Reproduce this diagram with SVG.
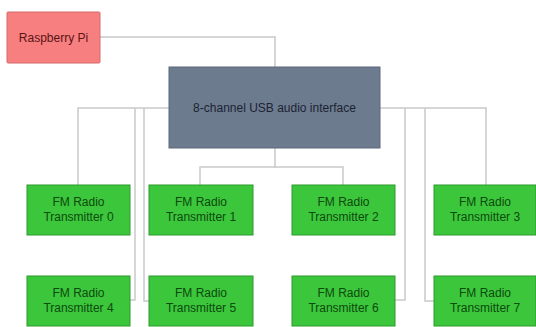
<svg xmlns="http://www.w3.org/2000/svg" width="536" height="327" viewBox="0 0 536 327">
<style>
.bg{fill:#ffffff}
.pi{fill:#f77f80;stroke:#d86a6a;stroke-width:1}
.usb{fill:#6d7b8f;stroke:#5c687a;stroke-width:1}
.fm{fill:#3cc63c;stroke:#2c9a2c;stroke-width:1}
.c{fill:none;stroke:#c9c9c9;stroke-width:1.5}
text{font-family:"Liberation Sans",Arial,sans-serif;font-size:12px;text-anchor:middle}
.tpi{fill:#5a1414}
.tusb{fill:#1b2333}
.tfm{fill:#0d4a0d}
</style>
<rect class="bg" x="0" y="0" width="536" height="327"/>
<g id="connectors">
<polyline class="c" points="100,37 275,37 275,67"/>
<polyline class="c" points="275,148 275,167 200,167 200,185"/>
<polyline class="c" points="275,167 343,167 343,185"/>
<polyline class="c" points="169,108 78,108 78,185"/>
<polyline class="c" points="135,108 135,300 130,300"/>
<polyline class="c" points="144,108 144,301 149,301"/>
<polyline class="c" points="380,108 486,108 486,185"/>
<polyline class="c" points="405,108 405,300 395,300"/>
<polyline class="c" points="425,108 425,301 434,301"/>
</g>
<g id="raspberry-pi">
<rect class="pi" x="7" y="12" width="93" height="51" rx="1"/>
<text class="tpi" x="53.5" y="41.5">Raspberry Pi</text>
</g>
<g id="usb-audio">
<rect class="usb" x="169" y="67" width="211" height="81"/>
<text class="tusb" x="274.5" y="112">8-channel USB audio interface</text>
</g>
<g id="fm0">
<rect class="fm" x="27" y="185" width="103" height="50"/>
<text class="tfm" x="78.5" y="206">FM Radio</text>
<text class="tfm" x="78.5" y="221">Transmitter 0</text>
</g>
<g id="fm1">
<rect class="fm" x="149" y="185" width="104" height="50"/>
<text class="tfm" x="201" y="206">FM Radio</text>
<text class="tfm" x="201" y="221">Transmitter 1</text>
</g>
<g id="fm2">
<rect class="fm" x="292" y="185" width="103" height="50"/>
<text class="tfm" x="343.5" y="206">FM Radio</text>
<text class="tfm" x="343.5" y="221">Transmitter 2</text>
</g>
<g id="fm3">
<rect class="fm" x="434" y="185" width="102" height="50"/>
<text class="tfm" x="485" y="206">FM Radio</text>
<text class="tfm" x="485" y="221">Transmitter 3</text>
</g>
<g id="fm4">
<rect class="fm" x="27" y="276" width="103" height="50"/>
<text class="tfm" x="78.5" y="297">FM Radio</text>
<text class="tfm" x="78.5" y="312">Transmitter 4</text>
</g>
<g id="fm5">
<rect class="fm" x="149" y="276" width="104" height="50"/>
<text class="tfm" x="201" y="297">FM Radio</text>
<text class="tfm" x="201" y="312">Transmitter 5</text>
</g>
<g id="fm6">
<rect class="fm" x="292" y="276" width="103" height="50"/>
<text class="tfm" x="343.5" y="297">FM Radio</text>
<text class="tfm" x="343.5" y="312">Transmitter 6</text>
</g>
<g id="fm7">
<rect class="fm" x="434" y="276" width="102" height="50"/>
<text class="tfm" x="485" y="297">FM Radio</text>
<text class="tfm" x="485" y="312">Transmitter 7</text>
</g>
</svg>
